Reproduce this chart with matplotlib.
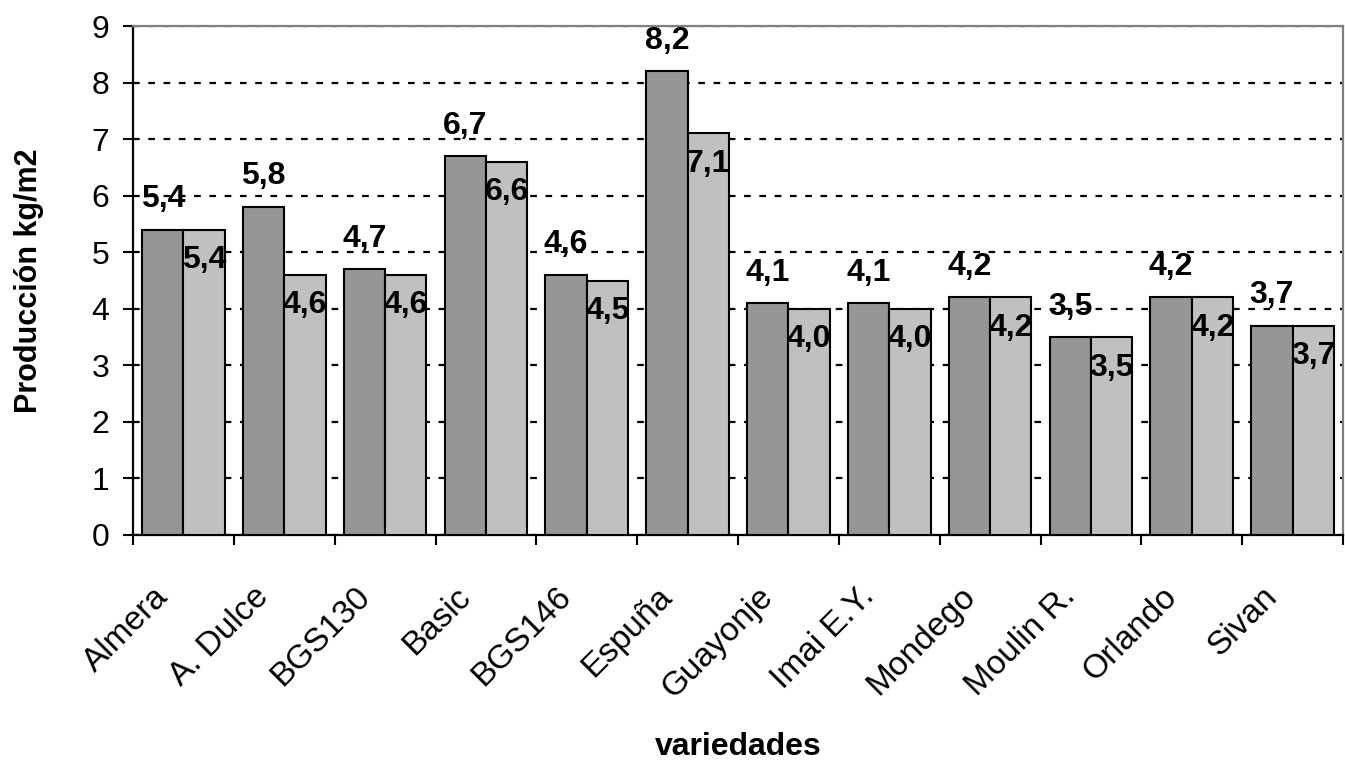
import matplotlib
matplotlib.use("Agg")
import matplotlib.pyplot as plt
import numpy as np
from matplotlib.transforms import ScaledTranslation

categories = ["Almera", "A. Dulce", "BGS130", "Basic", "BGS146", "Espuña",
              "Guayonje", "Imai E.Y.", "Mondego", "Moulin R.", "Orlando", "Sivan"]
serie1 = [5.4, 5.8, 4.7, 6.7, 4.6, 8.2, 4.1, 4.1, 4.2, 3.5, 4.2, 3.7]
serie2 = [5.4, 4.6, 4.6, 6.6, 4.5, 7.1, 4.0, 4.0, 4.2, 3.5, 4.2, 3.7]
yticks = list(range(0, 10))

plt.rcParams['font.family'] = ['Liberation Sans', 'DejaVu Sans']
plt.rcParams['lines.scale_dashes'] = False

fig = plt.figure(figsize=(13.45, 7.63), dpi=100)
ax = fig.add_axes([133/1345, 1-535/763, 1210/1345, 509/763])

x = np.arange(len(categories))
w = 0.41
ax.bar(x - w/2, serie1, w, color='#969696', edgecolor='black', linewidth=1.5, zorder=3)
ax.bar(x + w/2, serie2, w, color='#c0c0c0', edgecolor='black', linewidth=1.5, zorder=3)

def fmt(v):
    return f"{v:.1f}".replace('.', ',')

for xi, v in zip(x, serie1):
    ax.annotate(fmt(v), (xi - w/2, v), xytext=(0, 22), textcoords='offset points',
                ha='center', va='center', fontsize=23, fontweight='bold',
                annotation_clip=False, zorder=5)
for xi, v in zip(x, serie2):
    ax.annotate(fmt(v), (xi + w/2, v), xytext=(0, -22), textcoords='offset points',
                ha='center', va='center', fontsize=23, fontweight='bold',
                annotation_clip=False, zorder=5)

ax.set_xlim(-0.5, len(categories) - 0.5)
ax.set_ylim(0, 9)
ax.set_yticks(yticks)
ax.set_yticklabels([str(t) for t in yticks], fontsize=23)
ax.tick_params(axis='y', direction='out', length=7.2, width=1.5, pad=10)

ax.set_xticks(x)
ax.set_xticklabels(categories, fontsize=24, rotation=45, ha='right',
                   va='center', rotation_mode='anchor')
ax.tick_params(axis='x', which='major', length=0, pad=41)
ax.set_xticks(np.arange(len(categories) + 1) - 0.5, minor=True)
ax.tick_params(axis='x', which='minor', direction='out', length=7.2, width=1.5)
off = ScaledTranslation(-20/100, 0, fig.dpi_scale_trans)
for lab in ax.get_xticklabels():
    lab.set_transform(lab.get_transform() + off)

ax.set_axisbelow(True)
ax.yaxis.grid(True, color='black', linestyle=(0, (4.8, 6.2)), linewidth=1.6)

ax.spines['left'].set_color('black')
ax.spines['left'].set_linewidth(1.6)
ax.spines['bottom'].set_color('black')
ax.spines['bottom'].set_linewidth(1.6)
ax.spines['top'].set_color('#808080')
ax.spines['top'].set_linewidth(1.6)
ax.spines['right'].set_color('#808080')
ax.spines['right'].set_linewidth(1.6)

ax.set_ylabel("Producción kg/m2", fontsize=22, fontweight='bold')
ax.yaxis.set_label_coords(-0.0736, 0.5)
ax.set_xlabel("variedades", fontsize=23, fontweight='bold')
ax.xaxis.set_label_coords(0.5, -0.387)

fig.savefig("out.png", dpi=100)
